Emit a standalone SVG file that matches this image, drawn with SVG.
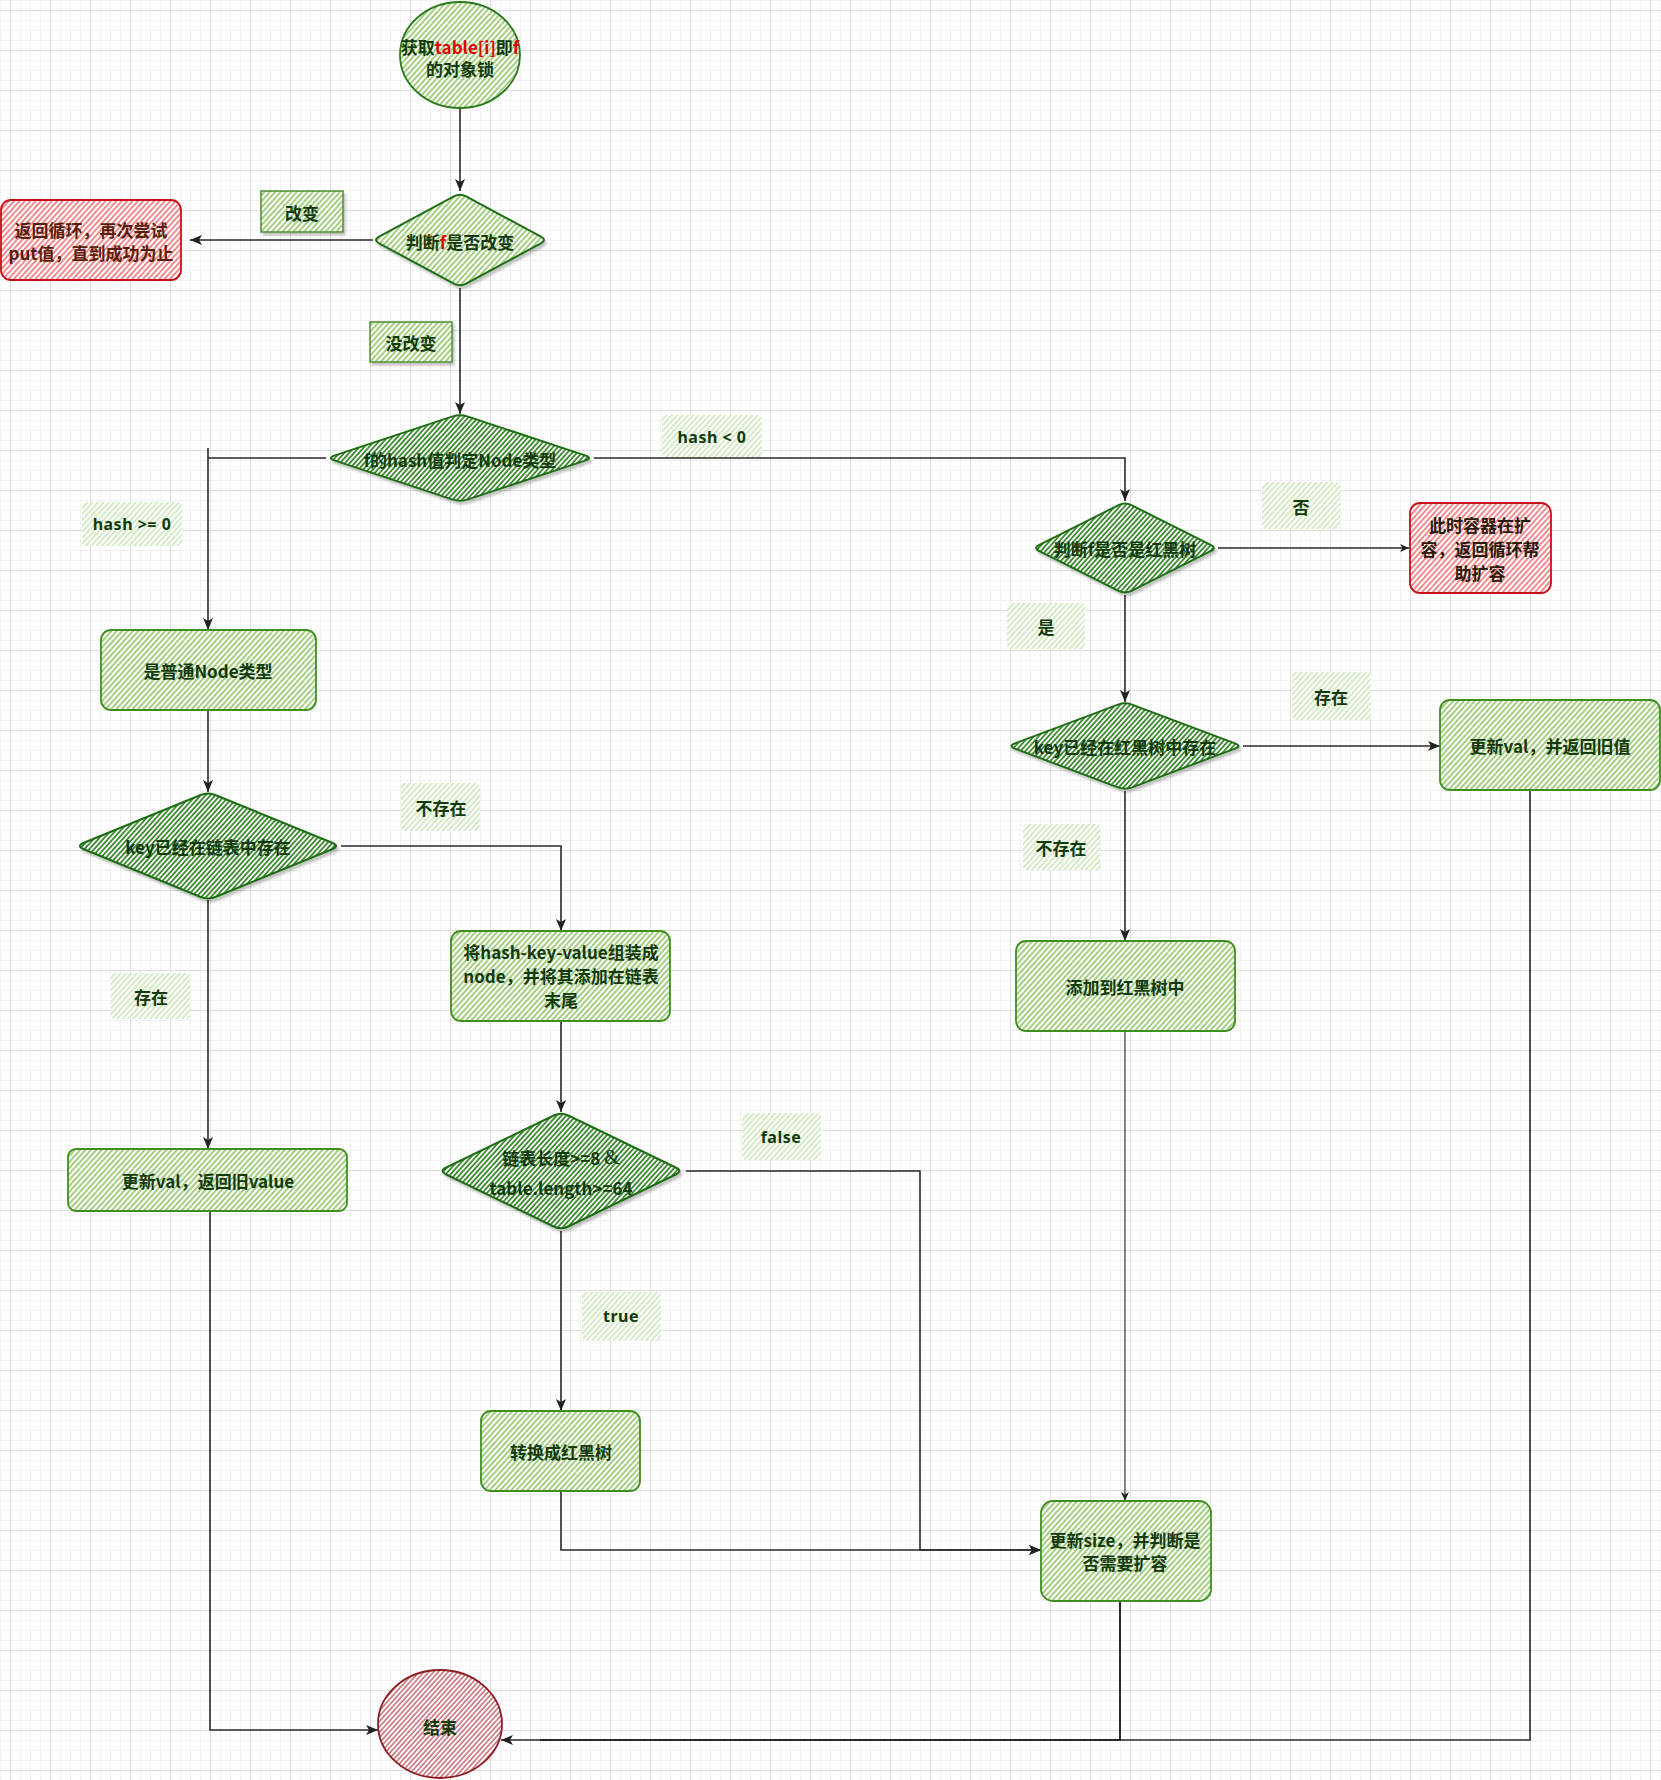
<svg xmlns="http://www.w3.org/2000/svg" width="1661" height="1780" viewBox="0 0 1661 1780">
<defs>
<pattern id="grid" x="0" y="0" width="40" height="40" patternUnits="userSpaceOnUse">
<rect width="40" height="40" fill="#ffffff"/>
<path d="M0.5,0V40M20.5,0V40M30.5,0V40M0,0.5H40M0,20.5H40M0,30.5H40" stroke="#f1f1f1" stroke-width="1"/>
<path d="M10.5,0V40M0,10.5H40" stroke="#dedede" stroke-width="1"/>
</pattern>
<pattern id="hDark" width="3.6" height="3.6" patternUnits="userSpaceOnUse" patternTransform="rotate(42)">
<rect width="3.6" height="3.6" fill="#ffffff"/>
<line x1="1" y1="0" x2="1" y2="3.6" stroke="#2f7f22" stroke-width="1.7"/>
</pattern>
<pattern id="hBox" width="4" height="4" patternUnits="userSpaceOnUse" patternTransform="rotate(42)">
<rect width="4" height="4" fill="#ffffff"/>
<line x1="1" y1="0" x2="1" y2="4" stroke="#86bf58" stroke-width="1.5"/>
</pattern>
<pattern id="hLabel" width="4" height="4" patternUnits="userSpaceOnUse" patternTransform="rotate(42)">
<rect width="4" height="4" fill="#ffffff"/>
<line x1="1" y1="0" x2="1" y2="4" stroke="#bfe0a6" stroke-width="1.3"/>
</pattern>
<pattern id="hRed" width="4" height="4" patternUnits="userSpaceOnUse" patternTransform="rotate(42)">
<rect width="4" height="4" fill="#ffffff"/>
<line x1="1" y1="0" x2="1" y2="4" stroke="#ec5a5f" stroke-width="1.4"/>
</pattern>
<pattern id="hEnd" width="3.6" height="3.6" patternUnits="userSpaceOnUse" patternTransform="rotate(42)">
<rect width="3.6" height="3.6" fill="#ffffff"/>
<line x1="1" y1="0" x2="1" y2="3.6" stroke="#b9505c" stroke-width="1.3"/>
</pattern>
<filter id="shd" x="-10%" y="-10%" width="130%" height="140%">
<feDropShadow dx="2" dy="3" stdDeviation="1" flood-color="#000000" flood-opacity="0.22"/>
</filter>
<marker id="arr" viewBox="0 0 12 10" refX="12" refY="5" markerWidth="12" markerHeight="10" markerUnits="userSpaceOnUse" orient="auto">
<path d="M0,0 L12,5 L0,10 L3,5 Z" fill="#222"/>
</marker>
<marker id="arrs" viewBox="0 0 9 8" refX="9" refY="4" markerWidth="9" markerHeight="8" markerUnits="userSpaceOnUse" orient="auto">
<path d="M0,0 L9,4 L0,8 L2.5,4 Z" fill="#222"/>
</marker>
<style>
.t { font-family: "Noto Sans CJK SC", "Noto Sans", sans-serif; font-weight: bold; font-size: 17px; fill: #123a0a; text-anchor: middle; dominant-baseline: central; }
.lt { font-family: "Noto Sans", "Noto Sans CJK SC", sans-serif; font-weight: bold; font-size: 16px; fill: #123a0a; text-anchor: middle; dominant-baseline: central; letter-spacing: 0.5px; }
.red { fill: #e00000; }
.dia { fill: url(#hDark); stroke: #1f6e12; stroke-width: 2; filter: url(#shd); }
.box { fill: url(#hBox); stroke: #3f8f1f; stroke-width: 1.8; }
.lab { fill: url(#hLabel); stroke: none; }
.lab2 { fill: url(#hBox); stroke: #4f8f2f; stroke-width: 1.5; filter: url(#shd); }
.rbox { fill: url(#hRed); stroke: #c8101a; stroke-width: 1.8; }
.c { fill: none; stroke: #2a2a2a; stroke-width: 1.6; }
</style>
</defs>

<rect x="0" y="0" width="1661" height="1780" fill="url(#grid)"/>

<g id="connectors">
<path class="c" d="M460,108 V191" marker-end="url(#arr)"/>
<path class="c" d="M373,240 H190" marker-end="url(#arr)"/>
<path class="c" d="M460,288 V414" marker-end="url(#arr)"/>
<path class="c" d="M326,458 H208 M208,448 V630" marker-end="url(#arr)"/>
<path class="c" d="M594,458 H1125 V501" marker-end="url(#arr)"/>
<path class="c" d="M1218,548 H1409" stroke="#555" stroke-width="1.4" marker-end="url(#arrs)"/>
<path class="c" d="M1125,595 V702" marker-end="url(#arr)"/>
<path class="c" d="M1243,746 H1440" marker-end="url(#arr)"/>
<path class="c" d="M1125,791 V941" marker-end="url(#arr)"/>
<path class="c" d="M1125,1031 V1501" style="stroke:#111;stroke-width:1" marker-end="url(#arrs)"/>
<path class="c" d="M208,710 V792" marker-end="url(#arr)"/>
<path class="c" d="M341,846 H561 V931" marker-end="url(#arr)"/>
<path class="c" d="M208,900 V1149" marker-end="url(#arr)"/>
<path class="c" d="M561,1021 V1112" marker-end="url(#arr)"/>
<path class="c" d="M561,1231 V1411" marker-end="url(#arr)"/>
<path class="c" d="M686,1171 H920 V1550 H1041" marker-end="url(#arr)"/>
<path class="c" d="M561,1491 V1550 H1041" marker-end="url(#arr)"/>
<path class="c" d="M1120,1601 V1740 H540" style="stroke-width:2"/>
<path class="c" d="M1530,790 V1740 H501" marker-end="url(#arr)"/>
<path class="c" d="M210,1211 V1730 H378" marker-end="url(#arr)"/>
</g>

<g id="start">
<ellipse cx="460" cy="55" rx="60" ry="53" fill="url(#hBox)" stroke="#2a7a1a" stroke-width="1.8"/>
<text class="t" x="460" y="46">获取<tspan class="red">table[i]</tspan>即<tspan class="red">f</tspan></text>
<text class="t" x="460" y="68">的对象锁</text>
</g>

<g id="judge-f-changed">
<path class="dia" d="M466.1,196.3 L540.9,236.7 Q547,240 540.9,243.3 L466.1,283.7 Q460,287 453.9,283.7 L379.1,243.3 Q373,240 379.1,236.7 L453.9,196.3 Q460,193 466.1,196.3 Z" style="fill:url(#hBox)"/>
<text class="t" x="460" y="241">判断<tspan class="red">f</tspan>是否改变</text>
</g>

<g id="label-changed">
<rect class="lab2" x="261" y="191" width="82" height="41"/>
<text class="t" x="302" y="212">改变</text>
</g>

<g id="retry">
<rect class="rbox" x="1" y="200" width="180" height="80" rx="10"/>
<text class="t" x="91" y="229" style="fill:#5a1e0a">返回循环，再次尝试</text>
<text class="t" x="91" y="252" style="fill:#5a1e0a">put值，直到成功为止</text>
</g>

<g id="label-unchanged">
<rect class="lab2" x="370" y="322" width="82" height="40"/>
<text class="t" x="411" y="342">没改变</text>
</g>

<g id="hash-type">
<path class="dia" d="M468,416.6 L585,455.4 Q593,458 585,460.6 L468,499.4 Q460,502 452,499.4 L335,460.6 Q327,458 335,455.4 L452,416.6 Q460,414 468,416.6 Z"/>
<text class="t" x="460" y="459">f的hash值判定Node类型</text>
</g>

<g id="label-hash-lt0">
<rect class="lab" x="662" y="415" width="100" height="42" rx="4"/>
<text class="lt" x="712" y="437">hash &lt; 0</text>
</g>

<g id="label-hash-ge0">
<rect class="lab" x="82" y="502" width="100" height="44" rx="4"/>
<text class="lt" x="132" y="524">hash &gt;= 0</text>
</g>

<g id="judge-rbtree">
<path class="dia" d="M1131.4,505.2 L1210.6,544.8 Q1217,548 1210.6,551.2 L1131.4,590.8 Q1125,594 1118.6,590.8 L1039.4,551.2 Q1033,548 1039.4,544.8 L1118.6,505.2 Q1125,502 1131.4,505.2 Z"/>
<text class="t" x="1125" y="548">判断f是否是红黑树</text>
</g>

<g id="label-no">
<rect class="lab" x="1262" y="482" width="78" height="47" rx="4"/>
<text class="t" x="1301" y="506">否</text>
</g>

<g id="resize-help">
<rect class="rbox" x="1410" y="503" width="141" height="90" rx="10"/>
<text class="t" x="1480" y="524" style="fill:#2a1a08">此时容器在扩</text>
<text class="t" x="1480" y="548" style="fill:#2a1a08">容，返回循环帮</text>
<text class="t" x="1480" y="572" style="fill:#2a1a08">助扩容</text>
</g>

<g id="label-yes">
<rect class="lab" x="1007" y="603" width="78" height="46" rx="4"/>
<text class="t" x="1046" y="626">是</text>
</g>

<g id="key-in-rbtree">
<path class="dia" d="M1132,704.6 L1235,743.4 Q1242,746 1235,748.6 L1132,787.4 Q1125,790 1118,787.4 L1015,748.6 Q1008,746 1015,743.4 L1118,704.6 Q1125,702 1132,704.6 Z"/>
<text class="t" x="1125" y="746">key已经在红黑树中存在</text>
</g>

<g id="label-exist-right">
<rect class="lab" x="1292" y="672" width="79" height="48" rx="4"/>
<text class="t" x="1331" y="696">存在</text>
</g>

<g id="update-val-rb">
<rect class="box" x="1440" y="700" width="220" height="90" rx="10"/>
<text class="t" x="1550" y="745">更新val，并返回旧值</text>
</g>

<g id="label-notexist-right">
<rect class="lab" x="1023" y="824" width="77" height="46" rx="4"/>
<text class="t" x="1061" y="847">不存在</text>
</g>

<g id="add-rbtree">
<rect class="box" x="1016" y="941" width="219" height="90" rx="10"/>
<text class="t" x="1125" y="986">添加到红黑树中</text>
</g>

<g id="normal-node">
<rect class="box" x="101" y="630" width="215" height="80" rx="10"/>
<text class="t" x="208" y="670">是普通Node类型</text>
</g>

<g id="key-in-list">
<path class="dia" d="M215.9,795.2 L332.1,842.8 Q340,846 332.1,849.2 L215.9,896.8 Q208,900 200.1,896.8 L83.9,849.2 Q76,846 83.9,842.8 L200.1,795.2 Q208,792 215.9,795.2 Z"/>
<text class="t" x="208" y="846">key已经在链表中存在</text>
</g>

<g id="label-notexist-left">
<rect class="lab" x="401" y="783" width="79" height="48" rx="4"/>
<text class="t" x="441" y="807">不存在</text>
</g>

<g id="append-node">
<rect class="box" x="451" y="931" width="219" height="90" rx="10"/>
<text class="t" x="561" y="951">将hash-key-value组装成</text>
<text class="t" x="561" y="975">node，并将其添加在链表</text>
<text class="t" x="561" y="999">末尾</text>
</g>

<g id="label-exist-left">
<rect class="lab" x="111" y="973" width="79" height="46" rx="4"/>
<text class="t" x="151" y="996">存在</text>
</g>

<g id="update-val-list">
<rect class="box" x="68" y="1149" width="279" height="62" rx="8"/>
<text class="t" x="208" y="1180">更新val，返回旧value</text>
</g>

<g id="list-length">
<path class="dia" d="M568.3,1115.5 L675.7,1167.5 Q683,1171 675.7,1174.5 L568.3,1226.5 Q561,1230 553.7,1226.5 L446.3,1174.5 Q439,1171 446.3,1167.5 L553.7,1115.5 Q561,1112 568.3,1115.5 Z"/>
<text class="t" x="561" y="1157">链表长度&gt;=8 <tspan style="font-family:'Liberation Serif',serif;font-weight:normal;font-size:20px">&amp;</tspan></text>
<text class="t" x="561" y="1187">table.length&gt;=64</text>
</g>

<g id="label-false">
<rect class="lab" x="742" y="1113" width="79" height="47" rx="4"/>
<text class="lt" x="781" y="1137">false</text>
</g>

<g id="label-true">
<rect class="lab" x="582" y="1292" width="79" height="48" rx="4"/>
<text class="lt" x="621" y="1316">true</text>
</g>

<g id="to-rbtree">
<rect class="box" x="481" y="1411" width="159" height="80" rx="10"/>
<text class="t" x="561" y="1451">转换成红黑树</text>
</g>

<g id="update-size">
<rect class="box" x="1041" y="1501" width="170" height="100" rx="12"/>
<text class="t" x="1125" y="1539">更新size，并判断是</text>
<text class="t" x="1125" y="1562">否需要扩容</text>
</g>

<g id="end">
<ellipse cx="440" cy="1724" rx="62" ry="54" fill="url(#hEnd)" stroke="#8e1d22" stroke-width="1.8"/>
<text class="t" x="440" y="1726">结束</text>
</g>
</svg>
